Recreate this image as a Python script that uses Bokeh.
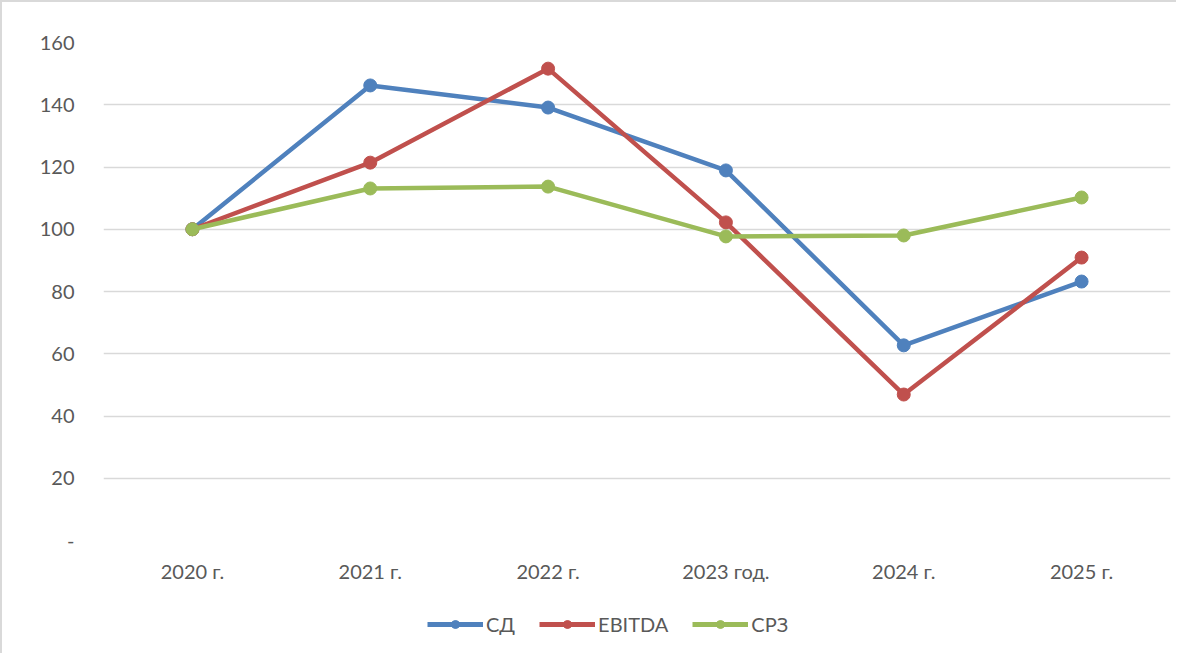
from bokeh.plotting import figure
from bokeh.layouts import column
from bokeh.models import ColumnDataSource, FixedTicker, Legend, LegendItem, Range1d
from bokeh.embed import file_html
from bokeh.resources import INLINE

categories = ["2020 г.", "2021 г.", "2022 г.", "2023 год.", "2024 г.", "2025 г."]
sd = [100, 146.2, 139.1, 118.9, 62.7, 83.2]
ebitda = [100, 121.4, 151.6, 102.2, 46.9, 90.9]
srz = [100, 113.1, 113.7, 97.7, 98.0, 110.2]
y_ticks = [0, 20, 40, 60, 80, 100, 120, 140, 160]

series = [("СД", sd, "#4f81bd"), ("EBITDA", ebitda, "#c0504d"), ("СРЗ", srz, "#9bbb59")]

FONT = "Lato"
TXT = "#595959"
p = figure(x_range=categories, y_range=Range1d(0, 160), width=1176, height=600,
           output_backend="svg", toolbar_location=None,
           min_border_left=101, min_border_right=8, min_border_top=40, min_border_bottom=62)
p.styles = {"border-left": "2px solid #d9d9d9", "border-top": "2px solid #d9d9d9"}
p.outline_line_color = None
p.xgrid.grid_line_color = None
p.ygrid.grid_line_color = "#d9d9d9"
p.ygrid.grid_line_width = 1.5

p.yaxis.ticker = FixedTicker(ticks=y_ticks)
p.yaxis.major_label_overrides = {0: "-"}
for ax in (p.xaxis[0], p.yaxis[0]):
    ax.axis_line_color = None
    ax.major_tick_line_color = None
    ax.minor_tick_line_color = None
    ax.major_tick_out = 0
    ax.major_tick_in = 0
    ax.major_label_text_font = FONT
    ax.major_label_text_font_size = "20px"
    ax.major_label_text_color = TXT
p.yaxis.major_label_standoff = 29
p.xaxis.major_label_standoff = 18
p.x_range.range_padding = 0

for name, vals, color in series:
    src = ColumnDataSource(dict(x=categories, y=vals))
    p.line("x", "y", source=src, line_color=color, line_width=4.5)
    p.scatter("x", "y", source=src, size=13, fill_color=color, line_color=color)

# legend strip below the chart (its glyphs lie outside its view, only the legend shows)
lf = figure(x_range=categories, y_range=Range1d(1000, 1001), width=1176, height=53,
            output_backend="svg", toolbar_location=None,
            x_axis_location=None, y_axis_location=None,
            min_border_left=0, min_border_right=0, min_border_top=0, min_border_bottom=0)
lf.styles = {"border-left": "2px solid #d9d9d9"}
lf.outline_line_color = None
lf.grid.grid_line_color = None
items = []
for name, vals, color in series:
    src = ColumnDataSource(dict(x=categories, y=vals))
    l = lf.line("x", "y", source=src, line_color=color, line_width=5)
    s = lf.scatter("x", "y", source=src, size=16, fill_color=color, line_color=color)
    items.append(LegendItem(label=name, renderers=[l, s]))
legend = Legend(items=items, orientation="horizontal", location=(324, 17),
                label_text_font=FONT, label_text_font_size="20px", label_text_color=TXT,
                glyph_width=56, glyph_height=20, label_standoff=3, spacing=24,
                border_line_color=None, background_fill_alpha=0, margin=0, padding=0)
lf.add_layout(legend, "center")

layout = column(p, lf, spacing=0)
open("out.html", "w").write(file_html(layout, INLINE))
